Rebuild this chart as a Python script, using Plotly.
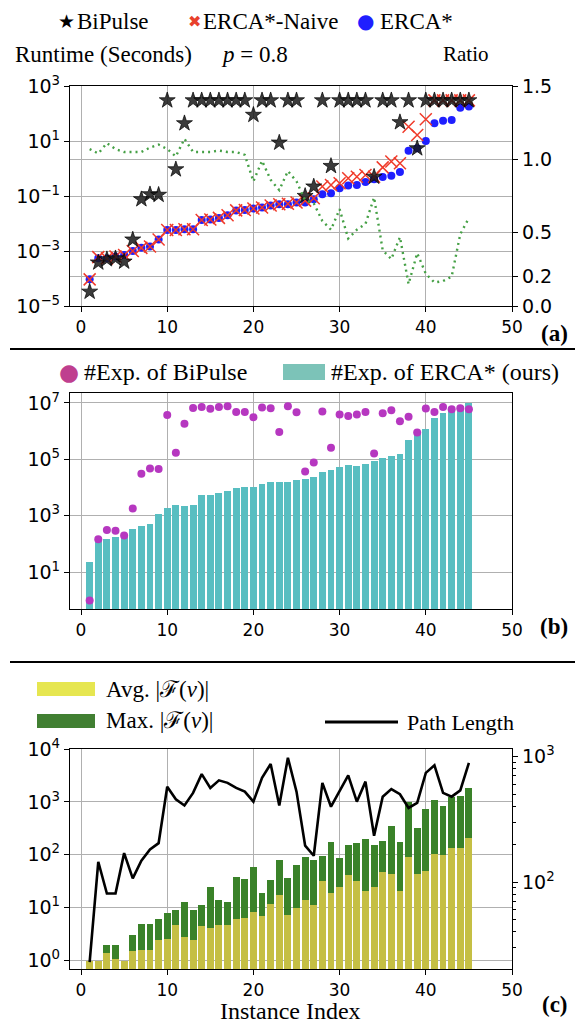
import plotly.graph_objects as go

W, H = 575, 1025
SERIF = "Liberation Serif, Times New Roman, serif"
SANS = "DejaVu Sans, sans-serif"

# ---------------- data ----------------
idx = list(range(1, 46))

# (a) runtime in seconds
bipulse_rt = [3.3e-5, 3.8e-4, 5.0e-4, 5.4e-4, 4.1e-4, 2.6e-3, 0.076, 0.115, 0.11, 300,
              0.93, 44, 300, 300, 300, 300, 300, 300, 300, 89,
              300, 300, 8.7, 300, 300, 0.10, 0.22, 300, 1.23, 300,
              300, 300, 300, 0.50, 300, 300, 48, 300, 5.4, 300,
              300, 300, 300, 300, 300]
naive_rt = [9.3e-5, 6.0e-4, 5.4e-4, 6.3e-4, 7.1e-4, 1.0e-3, 1.3e-3, 1.45e-3, 2.6e-3, 5.8e-3,
            5.8e-3, 6.2e-3, 6.2e-3, 0.0135, 0.014, 0.016, 0.020, 0.030, 0.031, 0.035,
            0.038, 0.045, 0.050, 0.052, 0.058, 0.068, 0.083, 0.22, 0.25, 0.29,
            0.44, 0.50, 0.58, 0.50, 1.1, 1.8, 1.55, 33, 16.6, 62,
            300, 300, 300, 300, 300]
erca_rt = [9.3e-5, 5.4e-4, 5.4e-4, 6.3e-4, 7.1e-4, 1.0e-3, 1.3e-3, 1.45e-3, 2.6e-3, 5.8e-3,
           5.8e-3, 6.2e-3, 6.2e-3, 0.0135, 0.014, 0.016, 0.020, 0.030, 0.031, 0.035,
           0.038, 0.045, 0.050, 0.050, 0.058, 0.058, 0.076, 0.115, 0.126, 0.19,
           0.24, 0.25, 0.32, 0.41, 0.49, 0.55, 0.74, 4.4, 5.4, 10,
           44, 54, 58, 162, 178]
ratio = [1.07, 1.04, 1.11, 1.07, 1.05, 1.05, 1.05, 1.08, 1.10, 1.07,
         1.02, 1.14, 1.05, 1.05, 1.05, 1.06, 1.05, 1.05, 1.03, 0.85,
         0.99, 0.86, 0.79, 0.92, 0.85, 0.72, 0.70, 0.58, 0.52, 0.66,
         0.46, 0.52, 0.56, 0.74, 0.38, 0.32, 0.47, 0.15, 0.36, 0.22,
         0.16, 0.17, 0.20, 0.49, 0.60]

# (b) number of expansions
erca_exp = [23, 129, 151, 182, 209, 331, 437, 501, 1120, 1950,
            2510, 2190, 2510, 5620, 5370, 6310, 7760, 10000, 10500, 10500,
            13500, 15500, 15500, 15500, 18600, 20000, 24000, 34700, 42700, 52500,
            63100, 60300, 69200, 89100, 110000, 129000, 155000, 490000, 776000, 1150000,
            2950000, 4470000, 5890000, 7590000, 9550000]
bipulse_exp = [1, 148, 316, 295, 200, 1820, 30900, 47900, 45700, 3.72e6,
               1.70e5, 1.82e6, 6.6e6, 7.2e6, 6.2e6, 7.2e6, 7.6e6, 4.8e6, 4.8e6, 3.1e6,
               6.9e6, 6.5e6, 9.3e5, 7.6e6, 4.7e6, 37200, 77600, 5.0e6, 2.57e5, 3.9e6,
               3.4e6, 3.9e6, 4.8e6, 1.62e5, 4.3e6, 5.5e6, 2.24e6, 3.2e6, 8.9e5, 6.3e6,
               4.8e6, 7.2e6, 5.9e6, 6.5e6, 5.9e6]

# (c) |F(v)| and path length
avg_f = [1, 1, 1.38, 1.07, 1, 1.5, 1.55, 1.55, 2.45, 2.5,
         4.8, 2.75, 2.45, 4.5, 4.1, 4.8, 4.8, 6.0, 6.5, 8.3,
         7.1, 11.7, 17, 7.2, 10, 13.8, 11, 31.6, 19, 25,
         41.7, 32.4, 20.4, 24.5, 46.8, 42.7, 20.9, 91, 43.7, 49,
         105, 98, 135, 135, 209]
max_f = [1, 1, 2.0, 2.0, 1, 3.0, 5.0, 5.0, 6.0, 7.9,
         8.9, 13, 8.9, 11.2, 24.5, 13.8, 13, 38, 35.5, 60,
         19, 34, 81, 37, 65, 91, 78, 93, 178, 87,
         151, 166, 200, 151, 186, 347, 174, 977, 316, 724,
         1096, 832, 1259, 1288, 1820]
path_len = [23, 145, 81, 81, 170, 107, 148, 182, 204, 575,
            457, 407, 513, 724, 562, 646, 617, 562, 525, 437,
            676, 871, 407, 977, 525, 195, 162, 617, 398, 537,
            708, 437, 631, 234, 479, 550, 501, 389, 427, 741,
            851, 513, 479, 537, 891]

x_ticks = [0, 10, 20, 30, 40, 50]
a_left_vals = [1e-5, 1e-3, 1e-1, 1e1, 1e3]
a_left_text = ["10<sup>\u22125</sup>", "10<sup>\u22123</sup>", "10<sup>\u22121</sup>", "10<sup>1</sup>", "10<sup>3</sup>"]
a_right_vals = [0, 0.2, 0.5, 1.0, 1.5]
a_right_text = ["0.0", "0.2", "0.5", "1.0", "1.5"]
b_vals = [1e1, 1e3, 1e5, 1e7]
b_text = ["10<sup>1</sup>", "10<sup>3</sup>", "10<sup>5</sup>", "10<sup>7</sup>"]
c_left_vals = [1, 10, 100, 1000, 10000]
c_left_text = ["10<sup>0</sup>", "10<sup>1</sup>", "10<sup>2</sup>", "10<sup>3</sup>", "10<sup>4</sup>"]
c_right_vals = [100, 1000]
c_right_text = ["10<sup>2</sup>", "10<sup>3</sup>"]
c_right_minor = [30, 40, 50, 60, 70, 80, 90, 200, 300, 400, 500, 600, 700, 800, 900]


def fx(p):
    return p / W


def fy(p):
    return 1 - p / H


XDOM = [fx(70), fx(512)]
GRID = "#b0b0b0"

fig = go.Figure()

# ---- panel (a)
fig.add_trace(go.Scatter(x=idx, y=erca_rt, mode="markers", name="ERCA*",
                         marker=dict(symbol="circle", size=8, color="#1f1fff"),
                         xaxis="x", yaxis="y"))
fig.add_trace(go.Scatter(x=idx, y=naive_rt, mode="markers", name="ERCA*-Naive",
                         marker=dict(symbol="x-thin", size=12,
                                     line=dict(color="#f03a2a", width=1.5)),
                         xaxis="x", yaxis="y"))
fig.add_trace(go.Scatter(x=idx, y=bipulse_rt, mode="markers", name="BiPulse",
                         marker=dict(symbol="star", size=12, color="rgba(25,25,25,0.85)",
                                     line=dict(color="black", width=0.7)),
                         xaxis="x", yaxis="y"))
fig.add_trace(go.Scatter(x=idx, y=ratio, mode="lines", name="Ratio",
                         line=dict(color="#45a045", dash="2px,4px", width=2.4),
                         xaxis="x", yaxis="y2"))

# ---- panel (b)
fig.add_trace(go.Bar(x=idx, y=erca_exp, width=0.8, name="#Exp. of ERCA* (ours)",
                     marker=dict(color="#58bec1", line=dict(width=0)),
                     xaxis="x2", yaxis="y3"))
fig.add_trace(go.Scatter(x=idx, y=bipulse_exp, mode="markers", name="#Exp. of BiPulse",
                         marker=dict(size=8, color="#b637c0"),
                         xaxis="x2", yaxis="y3"))

# ---- panel (c)
fig.add_trace(go.Bar(x=idx, y=max_f, width=0.8, name="Max",
                     marker=dict(color="#3a8229", line=dict(width=0)),
                     xaxis="x3", yaxis="y4"))
fig.add_trace(go.Bar(x=idx, y=avg_f, width=0.8, name="Avg",
                     marker=dict(color="#c5bf44", line=dict(width=0)),
                     xaxis="x3", yaxis="y4"))
fig.add_trace(go.Scatter(x=idx, y=path_len, mode="lines", name="Path Length",
                         line=dict(color="black", width=2.6),
                         xaxis="x3", yaxis="y5"))

tickfont_x = dict(family=SANS, size=17, color="black")
tickfont_y = dict(family=SANS, size=19, color="black")


def xax(anchor):
    return dict(domain=XDOM, anchor=anchor, range=[-1.28, 50], tickmode="array",
                tickvals=x_ticks, ticktext=[str(v) for v in x_ticks],
                showgrid=True, gridcolor=GRID, gridwidth=1, zeroline=False,
                showline=True, linecolor="black", linewidth=1.3, mirror=True,
                ticks="outside", ticklen=5, tickwidth=1.2, tickcolor="black",
                tickfont=tickfont_x, automargin=False)


def yax(dom, anchor, **kw):
    d = dict(domain=dom, anchor=anchor, showgrid=True, gridcolor=GRID, gridwidth=1,
             zeroline=False, showline=True, linecolor="black", linewidth=1.3,
             ticks="outside", ticklen=5, tickwidth=1.2, tickcolor="black",
             tickfont=tickfont_y, tickmode="array", automargin=False)
    d.update(kw)
    return d


ADOM = [fy(306), fy(86)]
BDOM = [fy(609), fy(393)]
CDOM = [fy(969), fy(749)]

fig.update_layout(
    width=W, height=H, autosize=False,
    margin=dict(l=0, r=0, t=0, b=0, pad=0, autoexpand=False),
    paper_bgcolor="white", plot_bgcolor="white",
    showlegend=False, barmode="overlay", bargap=0,
    xaxis=xax("y"),
    xaxis2=xax("y3"),
    xaxis3=xax("y4"),
    yaxis=yax(ADOM, "x", type="log", range=[-5, 3], tickvals=a_left_vals,
              ticktext=a_left_text, mirror=True),
    yaxis2=yax(ADOM, "x", overlaying="y", side="right", range=[0, 1.5],
               tickvals=a_right_vals, ticktext=a_right_text),
    yaxis3=yax(BDOM, "x2", type="log", range=[-0.3, 7.35], tickvals=b_vals,
               ticktext=b_text, mirror=True),
    yaxis4=yax(CDOM, "x3", type="log", range=[-0.16, 4.0], tickvals=c_left_vals,
               ticktext=c_left_text, mirror=True),
    yaxis5=yax(CDOM, "x3", overlaying="y4", side="right", type="log",
               range=[1.307, 3.06], tickvals=c_right_vals, ticktext=c_right_text,
               showgrid=False,
               minor=dict(tickmode="array", tickvals=c_right_minor, ticks="outside",
                          ticklen=3, tickwidth=1, tickcolor="black", showgrid=False)),
)

ann = []


def text(x, y, s, size=23, family=SERIF, color="black", xanchor="left", yanchor="middle"):
    ann.append(dict(x=fx(x), y=fy(y), xref="paper", yref="paper", text=s,
                    showarrow=False, xanchor=xanchor, yanchor=yanchor,
                    borderpad=0, borderwidth=0,
                    font=dict(family=family, size=size, color=color)))


# legend (a)
text(66, 21, "\u2605", size=19, family=SANS, xanchor="center")
text(77, 21, "BiPulse")
text(194, 21, "\u2716", size=16, family=SANS, color="#e8402c", xanchor="center")
text(203, 21, "ERCA*-Naive")
text(365, 21, "\u25CF", size=20, family=SANS, color="#1f1fff", xanchor="center")
text(380, 21, "ERCA*")
# titles (a)
text(15, 54, "Runtime (Seconds)")
text(254, 54, "<i>p</i> = 0.8", xanchor="center")
text(489, 54, "Ratio", size=21, xanchor="right")
text(568, 333, "<b>(a)</b>", size=23, xanchor="right")

# legend (b)
text(69, 372, "\u25CF", size=23, family=SANS, color="#bf3f8f", xanchor="center")
text(84, 372, "#Exp. of BiPulse", size=24)
text(331, 372, "#Exp. of ERCA* (ours)", size=24)
text(568, 626, "<b>(b)</b>", size=23, xanchor="right")

# legend (c)
text(106, 689, "Avg. |\u2131(<i>v</i>)|")
text(106, 720, "Max. |\u2131(<i>v</i>)|")
text(407, 722, "Path Length", size=22)
text(568, 1004, "<b>(c)</b>", size=23, xanchor="right")
text(290, 1024, "Instance Index", size=24, xanchor="center", yanchor="bottom")

shapes = []


def rect(x0, y0, x1, y1, color):
    shapes.append(dict(type="rect", xref="paper", yref="paper",
                       x0=fx(x0), x1=fx(x1), y0=fy(y1), y1=fy(y0),
                       fillcolor=color, line=dict(width=0)))


def hline(x0, x1, y, width, color="black"):
    shapes.append(dict(type="line", xref="paper", yref="paper",
                       x0=fx(x0), x1=fx(x1), y0=fy(y), y1=fy(y),
                       line=dict(color=color, width=width)))


rect(283, 364, 325, 380, "#7cc3b8")
rect(37, 682, 95, 696, "#e6e650")
rect(37, 714, 95, 728, "#417f32")
hline(325, 398, 722, 3)
hline(10, 575, 349, 2)
hline(10, 575, 662, 2)

fig.update_layout(annotations=ann, shapes=shapes)

fig.write_html(
    "out.html",
    config={"displayModeBar": False},
    post_script="document.documentElement.style.margin='0';"
                "document.body.style.margin='0';document.body.style.padding='0';"
                "document.body.style.overflow='hidden';",
)
